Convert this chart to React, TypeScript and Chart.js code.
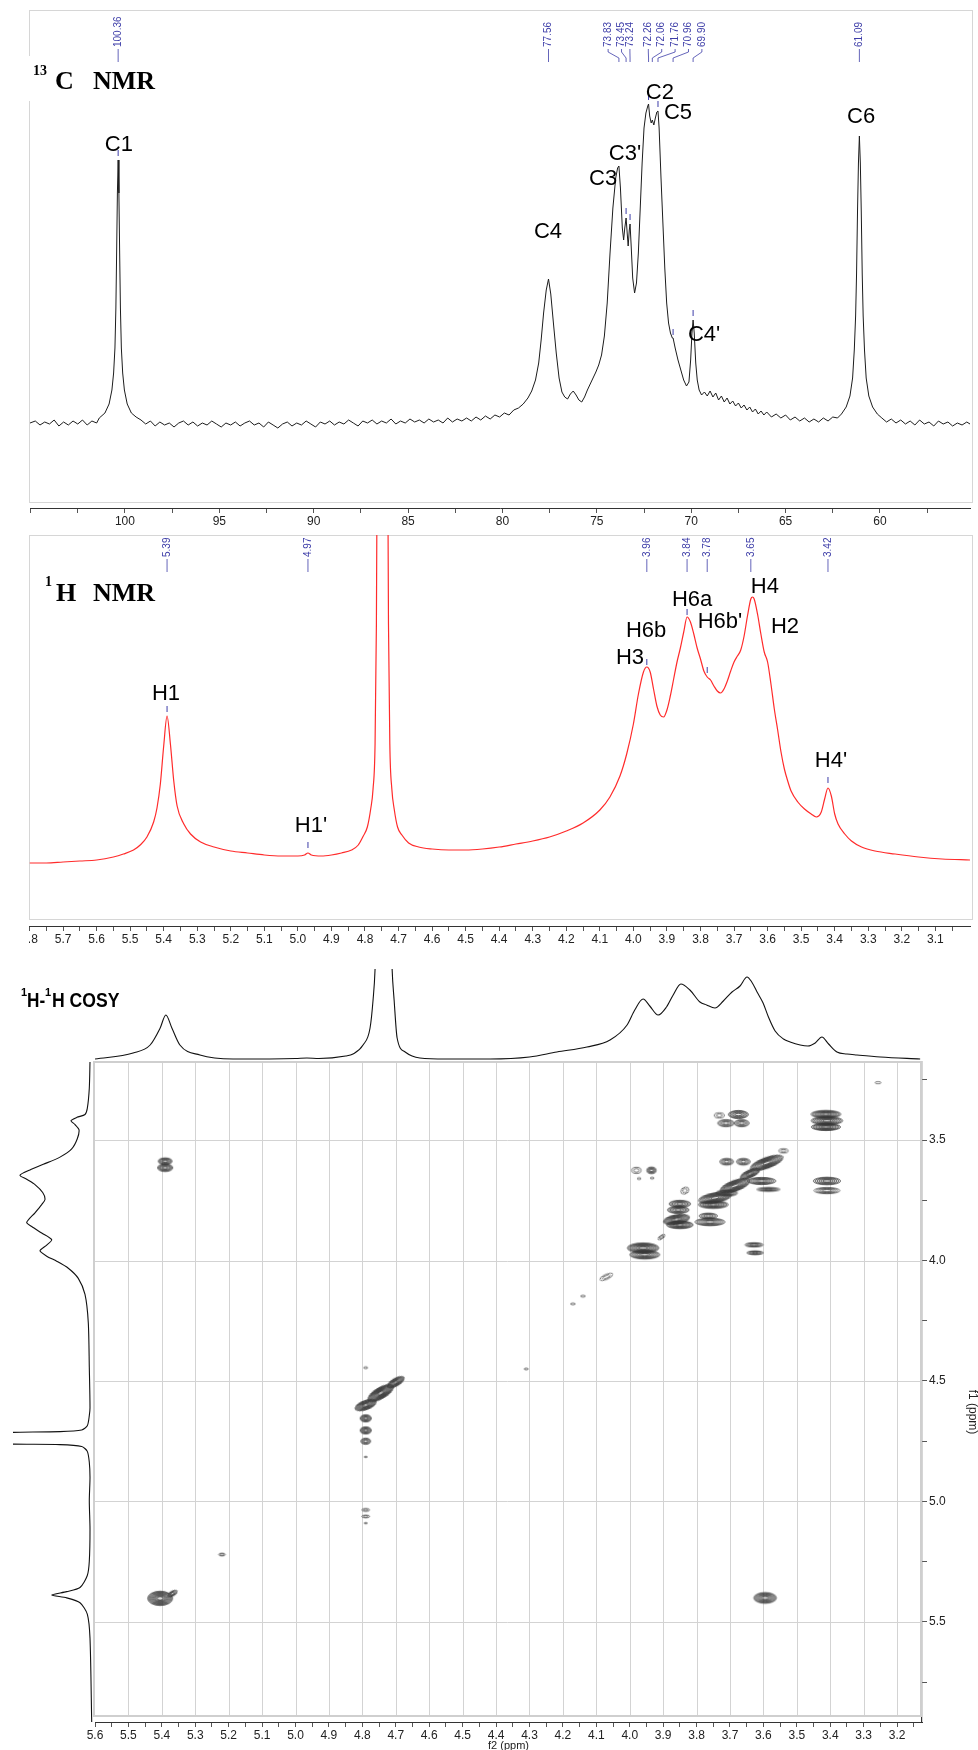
import React, { useEffect, useRef } from "react";
import { Chart, registerables } from "chart.js";
Chart.register(...registerables);

const NARROW = "'Liberation Sans Narrow', 'Arial Narrow', 'Liberation Sans', Arial, sans-serif";
const SANS = "'Liberation Sans', Arial, sans-serif";
const SERIF = "'Liberation Serif', 'Times New Roman', serif";
const BLUE = "#3d3da8";

// ---------------- 13C NMR ----------------
const c13Trace: [number, number][] = [
  [105.03, 85], [104.75, 87], [104.5, 83], [104.25, 86], [104.0, 84], [103.75, 88], [103.5, 82], [103.25, 86], [103.0, 83], [102.75, 87],
  [102.5, 84], [102.25, 88], [102.0, 83], [101.75, 87], [101.5, 85], [101.36, 90], [101.06, 95], [100.84, 104], [100.69, 118], [100.6, 135],
  [100.53, 160], [100.48, 200], [100.44, 255], [100.4, 315], [100.36, 348], [100.32, 315], [100.28, 255], [100.24, 200], [100.19, 160], [100.12, 135],
  [100.03, 118], [99.88, 104], [99.66, 95], [99.41, 91], [99.15, 88], [98.9, 84], [98.65, 87], [98.4, 82], [98.15, 86], [97.9, 83],
  [97.65, 85], [97.4, 81], [97.15, 85], [96.9, 87], [96.65, 83], [96.4, 86], [96.15, 82], [95.9, 85], [95.65, 83], [95.4, 87],
  [95.15, 84], [94.9, 81], [94.65, 85], [94.4, 83], [94.15, 86], [93.9, 82], [93.65, 85], [93.4, 87], [93.15, 83], [92.9, 85],
  [92.65, 81], [92.4, 86], [92.15, 83], [91.9, 80], [91.65, 84], [91.4, 86], [91.15, 82], [90.9, 85], [90.65, 83], [90.4, 87],
  [90.15, 84], [89.9, 81], [89.65, 86], [89.4, 84], [89.15, 87], [88.9, 83], [88.65, 86], [88.4, 84], [88.15, 88], [87.9, 85],
  [87.65, 82], [87.4, 87], [87.15, 85], [86.9, 88], [86.65, 84], [86.4, 87], [86.15, 85], [85.9, 89], [85.65, 84], [85.4, 87],
  [85.15, 85], [84.9, 89], [84.65, 86], [84.4, 88], [84.15, 85], [83.9, 89], [83.65, 86], [83.4, 88], [83.15, 85], [82.9, 90],
  [82.65, 86], [82.4, 89], [82.15, 87], [81.9, 90], [81.65, 87], [81.4, 91], [81.15, 88], [80.9, 92], [80.65, 89], [80.4, 93],
  [80.15, 91], [79.9, 95], [79.65, 93], [79.4, 98], [79.15, 100], [78.9, 104], [78.65, 110], [78.45, 117], [78.25, 128], [78.08, 145],
  [77.95, 168], [77.82, 195], [77.68, 218], [77.56, 229], [77.44, 214], [77.3, 185], [77.15, 155], [77.0, 130], [76.85, 116], [76.7, 111],
  [76.55, 109], [76.4, 114], [76.25, 117], [76.1, 113], [75.95, 108], [75.8, 106], [75.65, 111], [75.5, 118], [75.35, 124], [75.2, 130],
  [75.05, 136], [74.9, 143], [74.75, 153], [74.6, 172], [74.45, 205], [74.3, 255], [74.15, 300], [74.0, 330], [73.9, 340], [73.83, 342],
  [73.75, 320], [73.65, 280], [73.58, 268], [73.52, 280], [73.45, 290], [73.38, 272], [73.34, 262], [73.28, 278], [73.24, 284], [73.18, 262],
  [73.1, 230], [73.0, 215], [72.9, 225], [72.8, 255], [72.7, 300], [72.6, 345], [72.5, 380], [72.4, 395], [72.3, 402], [72.26, 404],
  [72.2, 392], [72.12, 385], [72.06, 388], [71.98, 383], [71.9, 390], [71.82, 396], [71.76, 397], [71.7, 380], [71.6, 330], [71.5, 285],
  [71.4, 240], [71.3, 205], [71.2, 185], [71.1, 175], [71.0, 170], [70.96, 170], [70.85, 160], [70.7, 148], [70.55, 138], [70.4, 128],
  [70.25, 122], [70.12, 126], [70.03, 148], [69.96, 175], [69.9, 188], [69.84, 175], [69.76, 145], [69.68, 128], [69.58, 118], [69.45, 113],
  [69.3, 116], [69.15, 112], [69.0, 117], [68.85, 111], [68.7, 115], [68.55, 108], [68.4, 112], [68.25, 106], [68.1, 110], [67.95, 104],
  [67.8, 107], [67.65, 102], [67.5, 105], [67.35, 100], [67.2, 103], [67.05, 98], [66.9, 101], [66.75, 96], [66.6, 99], [66.45, 94],
  [66.3, 97], [66.15, 93], [66.0, 96], [65.75, 91], [65.5, 94], [65.25, 90], [65.0, 93], [64.75, 88], [64.5, 91], [64.25, 87],
  [64.0, 90], [63.75, 86], [63.5, 89], [63.25, 86], [63.0, 90], [62.75, 87], [62.5, 91], [62.25, 90], [62.04, 94], [61.79, 101],
  [61.59, 112], [61.45, 130], [61.36, 158], [61.29, 192], [61.24, 234], [61.19, 296], [61.14, 345], [61.09, 372], [61.04, 345], [60.99, 296],
  [60.94, 234], [60.89, 192], [60.82, 158], [60.73, 130], [60.59, 112], [60.39, 101], [60.14, 94], [59.9, 90], [59.65, 86], [59.4, 89],
  [59.15, 85], [58.9, 88], [58.65, 84], [58.4, 87], [58.15, 83], [57.9, 88], [57.65, 84], [57.4, 86], [57.15, 82], [56.9, 87],
  [56.65, 84], [56.4, 86], [56.15, 82], [55.9, 85], [55.65, 83], [55.4, 86], [55.23, 84],
];
const c13PickPpm = [100.36, 77.56, 73.83, 73.45, 73.24, 72.26, 72.06, 71.76, 70.96, 69.9, 61.09];
const c13MarkPpm = [100.36, 73.45, 73.24, 72.26, 71.76, 70.96, 69.9];
const c13MarkHeight = [355, 297, 291, 411, 404, 176, 195];
const c13Names = ["C1", "C4", "C3", "C3'", "C2", "C5", "C4'", "C6"];
const c13NamePpm = [100.32, 77.59, 74.67, 73.51, 71.66, 70.7, 69.32, 61.0];
const c13NameHeight = [363, 276, 329, 354, 415, 395, 173, 391];
const C13_TICKS = [105, 102.5, 100, 97.5, 95, 92.5, 90, 87.5, 85, 82.5, 80, 77.5, 75, 72.5, 70, 67.5, 65, 62.5, 60, 57.5];
const C13_LABELS = [100, 95, 90, 85, 80, 75, 70, 65, 60];

// ---------------- 1H NMR ----------------
const h1Trace: [number, number][] = [
  [5.8, 61], [5.75, 61], [5.7, 62], [5.65, 63], [5.6, 64], [5.55, 67], [5.52, 70], [5.49, 74], [5.47, 79], [5.45, 87],
  [5.43, 102], [5.42, 116], [5.41, 140], [5.4, 178], [5.39, 208], [5.38, 180], [5.37, 143], [5.36, 118], [5.34, 100], [5.32, 90],
  [5.29, 82], [5.25, 77], [5.2, 73], [5.15, 71], [5.1, 69], [5.05, 68], [5.0, 68], [4.98, 69], [4.97, 71], [4.96, 69],
  [4.93, 68], [4.9, 69], [4.87, 71], [4.84, 74], [4.82, 79], [4.805, 88], [4.793, 97], [4.783, 115], [4.776, 135], [4.77, 180],
  [4.766, 300], [4.762, 600], [4.755, 1500], [4.748, 2000], [4.741, 1500], [4.734, 600], [4.73, 300], [4.726, 180], [4.72, 135], [4.713, 115],
  [4.703, 97], [4.69, 89], [4.67, 81], [4.64, 77], [4.6, 75], [4.55, 74], [4.5, 74], [4.45, 75], [4.4, 77], [4.35, 80],
  [4.3, 83], [4.25, 87], [4.2, 93], [4.15, 101], [4.1, 114], [4.07, 127], [4.04, 148], [4.02, 170], [4.0, 200], [3.985, 230],
  [3.97, 252], [3.96, 257], [3.95, 252], [3.94, 235], [3.93, 218], [3.92, 209], [3.91, 207], [3.9, 214], [3.89, 228], [3.88, 245],
  [3.87, 262], [3.86, 276], [3.85, 292], [3.84, 307], [3.83, 302], [3.82, 290], [3.81, 276], [3.8, 265], [3.79, 253], [3.78, 247],
  [3.77, 244], [3.76, 238], [3.75, 233], [3.74, 231], [3.73, 235], [3.72, 243], [3.71, 253], [3.7, 262], [3.69, 268], [3.68, 274],
  [3.67, 288], [3.66, 308], [3.65, 325], [3.645, 327], [3.64, 325], [3.63, 310], [3.62, 290], [3.61, 272], [3.6, 262], [3.59, 240],
  [3.58, 215], [3.57, 194], [3.56, 172], [3.55, 155], [3.54, 143], [3.53, 133], [3.51, 122], [3.49, 115], [3.47, 110], [3.455, 107],
  [3.44, 112], [3.43, 125], [3.42, 136], [3.41, 128], [3.4, 110], [3.39, 100], [3.37, 90], [3.35, 83], [3.32, 77], [3.28, 73],
  [3.22, 70], [3.15, 67], [3.08, 65], [2.9967, 64],
];
const h1PickPpm = [5.39, 4.97, 3.96, 3.84, 3.78, 3.65, 3.42];
const h1MarkPpm = [5.39, 4.97, 3.96, 3.84, 3.78, 3.42];
const h1MarkHeight = [215, 79, 262, 312, 254, 144];
const h1Names = ["H1", "H1'", "H3", "H6b", "H6a", "H6b'", "H4", "H2", "H4'"];
const h1NamePpm = [5.393, 4.961, 4.01, 3.962, 3.825, 3.742, 3.608, 3.548, 3.411];
const h1NameHeight = [230, 98, 266, 293, 324, 302, 337, 297, 163];
const H1_TICKS = [5.8, 5.75, 5.7, 5.65, 5.6, 5.55, 5.5, 5.45, 5.4, 5.35, 5.3, 5.25, 5.2, 5.15, 5.1, 5.05, 5.0, 4.95, 4.9, 4.85,
  4.8, 4.75, 4.7, 4.65, 4.6, 4.55, 4.5, 4.45, 4.4, 4.35, 4.3, 4.25, 4.2, 4.15, 4.1, 4.05, 4.0, 3.95, 3.9, 3.85, 3.8, 3.75,
  3.7, 3.65, 3.6, 3.55, 3.5, 3.45, 3.4, 3.35, 3.3, 3.25, 3.2, 3.15, 3.1, 3.05];
const H1_LABELS = [5.8, 5.7, 5.6, 5.5, 5.4, 5.3, 5.2, 5.1, 5.0, 4.9, 4.8, 4.7, 4.6, 4.5, 4.4, 4.3, 4.2, 4.1, 4.0, 3.9, 3.8,
  3.7, 3.6, 3.5, 3.4, 3.3, 3.2, 3.1];

// ---------------- COSY projections ----------------
const topProjTrace: [number, number][] = [
  [5.6, 3], [5.486, 9], [5.435, 17], [5.405, 34], [5.388, 47], [5.37, 34], [5.346, 17], [5.286, 7], [5.187, 3], [5.0, 3.5],
  [4.966, 4], [4.93, 3.5], [4.85, 6], [4.828, 8], [4.798, 17], [4.777, 34], [4.768, 62], [4.762, 93], [4.737, 400], [4.711, 93],
  [4.705, 62], [4.696, 24], [4.672, 10], [4.628, 4], [4.55, 3], [4.418, 3], [4.3, 5], [4.218, 10], [4.128, 15], [4.059, 22],
  [4.008, 37], [3.985, 52], [3.96, 63], [3.94, 56], [3.915, 47], [3.89, 55], [3.87, 67], [3.847, 78], [3.82, 72], [3.79, 60],
  [3.77, 57], [3.745, 54], [3.72, 61], [3.694, 70], [3.67, 76], [3.649, 85], [3.635, 80], [3.619, 70], [3.601, 59], [3.585, 45],
  [3.565, 31], [3.54, 23], [3.52, 20], [3.49, 17], [3.467, 16], [3.445, 19], [3.425, 25], [3.405, 18], [3.38, 10], [3.35, 8],
  [3.32, 7], [3.25, 5], [3.131, 3],
];
const leftProjTrace: [number, number][] = [
  [3.176, 5], [3.285, 5.7], [3.369, 7.7], [3.394, 10], [3.406, 18], [3.42, 24], [3.436, 20], [3.457, 16], [3.495, 17.7], [3.537, 23.3],
  [3.571, 35], [3.601, 51.7], [3.624, 65], [3.646, 75], [3.663, 68.3], [3.685, 60], [3.718, 52.3], [3.747, 50], [3.768, 53.3], [3.802, 60],
  [3.842, 68.3], [3.859, 63.3], [3.886, 53.3], [3.914, 43.3], [3.936, 48.3], [3.96, 55], [3.982, 48.3], [4.003, 38.3], [4.032, 26.7], [4.074, 16.7],
  [4.141, 10], [4.258, 6.7], [4.443, 5.7], [4.611, 5], [4.644, 5.7], [4.686, 7.7], [4.703, 13.3], [4.71, 35], [4.713, 82], [4.737, 300],
  [4.762, 82], [4.764, 35], [4.772, 13.3], [4.792, 7.7], [4.837, 5.7], [4.9, 5], [4.997, 5.7], [5.114, 5], [5.248, 5.7], [5.307, 7.7],
  [5.357, 15], [5.374, 28.3], [5.388, 43.3], [5.4, 28.3], [5.42, 15], [5.467, 7.7], [5.567, 5], [5.915, 3.3],
];

// ---------------- COSY cross peaks ----------------
const crossF2 = [3.257, 3.732, 3.675, 3.712, 3.665, 3.413, 3.41, 3.413, 3.96, 3.955, 3.905, 3.86, 3.85, 3.85, 3.855, 3.76, 3.765, 3.745, 3.75, 3.685,
  3.71, 3.605, 3.585, 3.59, 3.71, 3.66, 3.54, 3.835, 3.64, 3.98, 3.935, 3.41, 3.41, 3.628, 3.625, 4.07, 4.14, 4.17, 4.31, 5.405,
  5.368, 5.39, 5.39, 3.595, 5.22, 4.79, 4.745, 4.7, 4.79, 4.79, 4.79, 4.79, 4.79, 4.79, 4.79, 4.79, 3.972, 3.933];
const crossF1 = [3.262, 3.398, 3.394, 3.43, 3.43, 3.393, 3.42, 3.446, 3.948, 3.976, 3.903, 3.83, 3.852, 3.765, 3.79, 3.84, 3.815, 3.74, 3.768, 3.69,
  3.72, 3.67, 3.705, 3.595, 3.59, 3.59, 3.545, 3.71, 3.64, 3.626, 3.626, 3.67, 3.71, 3.935, 3.968, 4.068, 4.148, 4.18, 4.45, 5.402,
  5.382, 3.588, 3.615, 5.4, 5.22, 4.6, 4.55, 4.505, 4.655, 4.705, 4.75, 4.445, 4.815, 5.035, 5.062, 5.09, 3.66, 3.658];
const crossW = [0.018, 0.03, 0.06, 0.05, 0.045, 0.09, 0.095, 0.088, 0.095, 0.09, 0.025, 0.08, 0.08, 0.065, 0.065, 0.09, 0.055, 0.1, 0.09, 0.095,
  0.065, 0.085, 0.07, 0.105, 0.042, 0.042, 0.028, 0.025, 0.065, 0.028, 0.028, 0.082, 0.078, 0.055, 0.05, 0.042, 0.014, 0.014, 0.012, 0.075,
  0.032, 0.042, 0.046, 0.068, 0.02, 0.068, 0.088, 0.058, 0.034, 0.034, 0.03, 0.012, 0.01, 0.024, 0.024, 0.01, 0.011, 0.011];
const crossH = [0.009, 0.022, 0.034, 0.03, 0.03, 0.032, 0.034, 0.03, 0.042, 0.036, 0.014, 0.04, 0.032, 0.03, 0.03, 0.032, 0.024, 0.042, 0.032, 0.045,
  0.026, 0.03, 0.016, 0.045, 0.028, 0.028, 0.018, 0.026, 0.032, 0.026, 0.028, 0.032, 0.026, 0.018, 0.016, 0.02, 0.008, 0.008, 0.008, 0.06,
  0.02, 0.028, 0.032, 0.045, 0.012, 0.038, 0.046, 0.032, 0.03, 0.03, 0.026, 0.008, 0.006, 0.012, 0.012, 0.006, 0.008, 0.008];
const crossLevels = [1, 2, 4, 3, 3, 5, 5, 5, 6, 5, 2, 6, 5, 4, 4, 4, 3, 6, 5, 7,
  4, 4, 3, 7, 3, 3, 2, 2, 5, 2, 3, 4, 3, 3, 3, 2, 1, 1, 1, 7,
  3, 4, 4, 5, 2, 6, 8, 5, 4, 4, 3, 1, 1, 2, 2, 1, 1, 1];
const crossAngle = [0, 0, 0, 0, 0, 0, 0, 0, 0, 0, -35, -10, 0, 0, 0, 0, 0, -10, 0, -20,
  0, 0, 0, -20, 0, 0, 0, -30, -25, 0, 0, 0, 0, 0, 0, -25, 0, 0, 0, 0,
  -30, 0, 0, 0, 0, -20, -30, -30, 0, 0, 0, 0, 0, 0, 0, 0, 0, 0];
const COSY_X_TICKS = [5.6, 5.55, 5.5, 5.45, 5.4, 5.35, 5.3, 5.25, 5.2, 5.15, 5.1, 5.05, 5.0, 4.95, 4.9, 4.85, 4.8, 4.75, 4.7, 4.65,
  4.6, 4.55, 4.5, 4.45, 4.4, 4.35, 4.3, 4.25, 4.2, 4.15, 4.1, 4.05, 4.0, 3.95, 3.9, 3.85, 3.8, 3.75, 3.7, 3.65, 3.6, 3.55,
  3.5, 3.45, 3.4, 3.35, 3.3, 3.25, 3.2, 3.15];
const COSY_X_LABELS = [5.6, 5.5, 5.4, 5.3, 5.2, 5.1, 5.0, 4.9, 4.8, 4.7, 4.6, 4.5, 4.4, 4.3, 4.2, 4.1, 4.0, 3.9, 3.8, 3.7,
  3.6, 3.5, 3.4, 3.3, 3.2];
const COSY_Y_TICKS = [3.25, 3.5, 3.75, 4.0, 4.25, 4.5, 4.75, 5.0, 5.25, 5.5, 5.75];
const COSY_Y_LABELS = [3.5, 4.0, 4.5, 5.0, 5.5];
const COSY_GRID_X = [5.5, 5.4, 5.3, 5.2, 5.1, 5.0, 4.9, 4.8, 4.7, 4.6, 4.5, 4.4, 4.3, 4.2, 4.1, 4.0, 3.9, 3.8, 3.7, 3.6,
  3.5, 3.4, 3.3, 3.2];
const COSY_GRID_Y = [3.5, 4.0, 4.5, 5.0, 5.5];

// ---------------- helpers ----------------
const has = (arr: number[], v: number) => arr.some((a) => Math.abs(a - v) < 1e-6);
const pts = (arr: [number, number][]) => arr.map(([x, y]) => ({ x, y }));
const pts2 = (xs: number[], ys: number[]) => xs.map((x, i) => ({ x, y: ys[i] }));

function drawPpmLabels(chart: any, ppms: number[], yBottom: number, gap: number, crowdShift: number) {
  const ctx = chart.ctx;
  const xs = chart.scales.x;
  const px = ppms.map((p) => xs.getPixelForValue(p));
  const order = px.map((_, i) => i).sort((a, b) => px[a] - px[b]);
  const pos = order.map((i) => px[i]);
  for (let it = 0; it < 400; it++) {
    let moved = false;
    for (let k = 1; k < pos.length; k++) {
      const d = pos[k] - pos[k - 1];
      if (d < gap - 0.01) {
        const m = (gap - d) / 2;
        pos[k - 1] -= m;
        pos[k] += m;
        moved = true;
      }
    }
    if (!moved) break;
  }
  order.forEach((i, k) => {
    if (Math.abs(pos[k] - px[i]) > 0.5) pos[k] += crowdShift;
  });
  ctx.save();
  ctx.strokeStyle = BLUE;
  ctx.fillStyle = BLUE;
  ctx.lineWidth = 0.8;
  ctx.font = `10px ${SANS}`;
  order.forEach((i, k) => {
    const xl = pos[k];
    const xp = px[i];
    ctx.beginPath();
    ctx.moveTo(xl, yBottom + 1);
    ctx.lineTo(xl, yBottom + 4);
    ctx.lineTo(xp, yBottom + 10);
    ctx.lineTo(xp, yBottom + 14);
    ctx.stroke();
    ctx.save();
    ctx.translate(xl, yBottom - 1);
    ctx.rotate(-Math.PI / 2);
    ctx.textAlign = "left";
    ctx.textBaseline = "middle";
    ctx.fillText(ppms[i].toFixed(2), 0, 0);
    ctx.restore();
  });
  ctx.restore();
}

function drawNames(chart: any, names: string[], ppm: number[], h: number[]) {
  const ctx = chart.ctx;
  const xs = chart.scales.x;
  const ys = chart.scales.y;
  ctx.save();
  ctx.fillStyle = "#000";
  ctx.font = `22px ${SANS}`;
  ctx.textAlign = "center";
  ctx.textBaseline = "middle";
  names.forEach((n, i) => ctx.fillText(n, xs.getPixelForValue(ppm[i]), ys.getPixelForValue(h[i])));
  ctx.restore();
}

const stampCache = new Map<string, HTMLCanvasElement>();
function getStamp(w: number, h: number, n: number) {
  const key = `${Math.round(w * 2)}_${Math.round(h * 2)}_${n}`;
  const hit = stampCache.get(key);
  if (hit) return hit;
  const cw = Math.ceil(w) + 4;
  const ch = Math.ceil(h) + 4;
  const c = document.createElement("canvas");
  c.width = cw;
  c.height = ch;
  const g = c.getContext("2d")!;
  const rings = n <= 2 ? n : Math.round(n * 1.6);
  if (n >= 4) {
    g.fillStyle = "rgba(90,90,90,0.18)";
    g.beginPath();
    g.ellipse(cw / 2, ch / 2, w / 2, h / 2, 0, 0, Math.PI * 2);
    g.fill();
  }
  g.strokeStyle = "rgba(55,55,55,0.85)";
  g.lineWidth = 0.8;
  for (let i = 0; i < rings; i++) {
    const f = 1 - (i / rings) * 0.85;
    g.beginPath();
    g.ellipse(cw / 2, ch / 2, Math.max(0.9, (w / 2) * f), Math.max(0.7, (h / 2) * f), 0, 0, Math.PI * 2);
    g.stroke();
  }
  stampCache.set(key, c);
  return c;
}

function xAxis(ticksArr: number[], labels: number[], digits: number, height: number, extra: any = {}) {
  return {
    type: "linear",
    reverse: true,
    afterBuildTicks: (s: any) => {
      s.ticks = ticksArr.map((v) => ({ value: v }));
    },
    afterFit: (s: any) => {
      s.height = height;
      s.paddingLeft = 0;
      s.paddingRight = 0;
    },
    ticks: {
      autoSkip: false,
      maxRotation: 0,
      minRotation: 0,
      padding: 1,
      color: "#222",
      font: { family: NARROW, size: 12 },
      callback: (v: number) => (has(labels, v) ? v.toFixed(digits) : ""),
    },
    grid: { display: true, drawOnChartArea: false, drawTicks: true, tickLength: 5, color: "#555", lineWidth: 1 },
    border: { display: true, color: "#333", width: 1 },
    ...extra,
  };
}

const baseOptions = {
  responsive: false,
  animation: false,
  events: [],
  plugins: { legend: { display: false }, tooltip: { enabled: false } },
};

function c13Config(): any {
  const plugin = {
    id: "c13deco",
    beforeDraw(chart: any) {
      const ctx = chart.ctx;
      ctx.save();
      ctx.strokeStyle = "#d6d6d6";
      ctx.lineWidth = 1;
      ctx.strokeRect(29.5, 10.5, 943, 492);
      ctx.fillStyle = "#fff";
      ctx.fillRect(24, 56, 145, 45);
      ctx.restore();
    },
    afterDraw(chart: any) {
      const ctx = chart.ctx;
      drawPpmLabels(chart, c13PickPpm, 48, 13.4, 5);
      drawNames(chart, c13Names, c13NamePpm, c13NameHeight);
      ctx.save();
      ctx.fillStyle = "#000";
      ctx.textBaseline = "alphabetic";
      ctx.font = `bold 14px ${SERIF}`;
      ctx.fillText("13", 33, 75);
      ctx.font = `bold 26px ${SERIF}`;
      ctx.fillText("C", 55, 89);
      ctx.fillText("NMR", 93, 89);
      ctx.restore();
    },
  };
  return {
    type: "scatter",
    data: {
      datasets: [
        { data: pts(c13Trace), showLine: true, borderColor: "#1c1c1c", borderWidth: 1, pointRadius: 0, tension: 0 },
        { data: pts2(c13MarkPpm, c13MarkHeight), showLine: false, pointStyle: "line", pointRotation: 90, pointRadius: 3, pointBorderColor: BLUE, pointBorderWidth: 1 },
      ],
    },
    options: {
      ...baseOptions,
      layout: { autoPadding: false, padding: { left: 30, right: 8, top: 10, bottom: 0 } },
      scales: {
        x: { ...xAxis(C13_TICKS, C13_LABELS, 0, 32), min: 55.23, max: 105.03 },
        y: { display: false, min: 0, max: 498 },
      },
    },
    plugins: [plugin],
  };
}

function h1Config(): any {
  const plugin = {
    id: "h1deco",
    beforeDraw(chart: any) {
      const ctx = chart.ctx;
      ctx.save();
      ctx.strokeStyle = "#d6d6d6";
      ctx.lineWidth = 1;
      ctx.strokeRect(0.5, 5.5, 943, 384);
      ctx.restore();
    },
    afterDraw(chart: any) {
      const ctx = chart.ctx;
      drawPpmLabels(chart, h1PickPpm, 28, 13.4, 0);
      drawNames(chart, h1Names, h1NamePpm, h1NameHeight);
      ctx.save();
      ctx.fillStyle = "#000";
      ctx.font = `bold 14px ${SERIF}`;
      ctx.fillText("1", 16, 56);
      ctx.font = `bold 26px ${SERIF}`;
      ctx.fillText("H", 27, 71);
      ctx.fillText("NMR", 64, 71);
      ctx.restore();
    },
  };
  return {
    type: "scatter",
    data: {
      datasets: [
        { data: pts(h1Trace), showLine: true, borderColor: "#ff2b2b", borderWidth: 1.2, pointRadius: 0, cubicInterpolationMode: "monotone" },
        { data: pts2(h1MarkPpm, h1MarkHeight), showLine: false, pointStyle: "line", pointRotation: 90, pointRadius: 3, pointBorderColor: BLUE, pointBorderWidth: 1 },
      ],
    },
    options: {
      ...baseOptions,
      layout: { autoPadding: false, padding: { left: 0.5, right: 8, top: 5, bottom: 0 } },
      scales: {
        x: { ...xAxis(H1_TICKS, H1_LABELS, 1, 34), min: 2.9967, max: 5.8 },
        y: { display: false, min: -2, max: 389 },
      },
    },
    plugins: [plugin],
  };
}

function topProjConfig(): any {
  const plugin = {
    id: "topdeco",
    afterDraw(chart: any) {
      const ctx = chart.ctx;
      ctx.save();
      ctx.fillStyle = "#000";
      ctx.font = `bold 11px ${SANS}`;
      ctx.fillText("1", 21, 36);
      ctx.fillText("1", 45, 36);
      ctx.font = `bold 20px ${SANS}`;
      ctx.save();
      ctx.translate(27, 47);
      ctx.scale(0.86, 1);
      ctx.fillText("H-", 0, 0);
      ctx.restore();
      ctx.save();
      ctx.translate(52, 47);
      ctx.scale(0.88, 1);
      ctx.fillText("H COSY", 0, 0);
      ctx.restore();
      ctx.restore();
    },
  };
  return {
    type: "scatter",
    data: {
      datasets: [
        { data: pts(topProjTrace), showLine: true, borderColor: "#111", borderWidth: 1.1, pointRadius: 0, cubicInterpolationMode: "monotone" },
      ],
    },
    options: {
      ...baseOptions,
      layout: { autoPadding: false, padding: { left: 95, right: 56, top: 9, bottom: 0 } },
      scales: {
        x: { display: false, type: "linear", reverse: true, min: 3.1255, max: 5.6 },
        y: { display: false, min: 0, max: 93 },
      },
    },
    plugins: [plugin],
  };
}

function leftProjConfig(): any {
  return {
    type: "scatter",
    data: {
      datasets: [
        { data: leftProjTrace.map(([p, v]) => ({ x: v, y: p })), showLine: true, borderColor: "#111", borderWidth: 1.1, pointRadius: 0, tension: 0.25 },
      ],
    },
    options: {
      ...baseOptions,
      layout: { autoPadding: false, padding: { left: 13, right: 0, top: 0, bottom: 0 } },
      scales: {
        x: { display: false, type: "linear", reverse: true, min: 0, max: 82 },
        y: { display: false, type: "linear", reverse: true, min: 3.1763, max: 5.915 },
      },
    },
  };
}

function cosyConfig(): any {
  const plugin = {
    id: "cosydeco",
    beforeDatasetsDraw(chart: any) {
      const ctx = chart.ctx;
      const xs = chart.scales.x;
      const ys = chart.scales.y;
      const L = 94, T = 7, R = 921, B = 661;
      ctx.save();
      ctx.strokeStyle = "#d3d3d3";
      ctx.lineWidth = 1;
      COSY_GRID_X.forEach((v) => {
        const x = Math.round(xs.getPixelForValue(v)) + 0.5;
        ctx.beginPath();
        ctx.moveTo(x, T);
        ctx.lineTo(x, B);
        ctx.stroke();
      });
      COSY_GRID_Y.forEach((v) => {
        const y = Math.round(ys.getPixelForValue(v)) + 0.5;
        ctx.beginPath();
        ctx.moveTo(L, y);
        ctx.lineTo(R, y);
        ctx.stroke();
      });
      ctx.strokeStyle = "#cfcfcf";
      ctx.lineWidth = 2;
      ctx.strokeRect(L, T, R - L, B - T);
      ctx.restore();
    },
    afterDraw(chart: any) {
      const ctx = chart.ctx;
      ctx.save();
      ctx.fillStyle = "#222";
      ctx.font = `12px ${NARROW}`;
      ctx.translate(972, 357);
      ctx.rotate(Math.PI / 2);
      ctx.textAlign = "center";
      ctx.textBaseline = "middle";
      ctx.fillText("f1 (ppm)", 0, 0);
      ctx.restore();
    },
  };
  const data = crossF2.map((x, i) => ({ x, y: crossF1[i], w: crossW[i], h: crossH[i], n: crossLevels[i], a: crossAngle[i] }));
  return {
    type: "scatter",
    data: {
      datasets: [
        {
          data,
          showLine: false,
          pointRadius: 5,
          pointBorderWidth: 0,
          pointRotation: (c: any) => (c.raw ? c.raw.a : 0),
          pointStyle: (c: any) => {
            const r = c.raw;
            if (!r) return "circle";
            const xs = c.chart.scales.x;
            const ys = c.chart.scales.y;
            const wpx = Math.abs(xs.getPixelForValue(r.x - r.w / 2) - xs.getPixelForValue(r.x + r.w / 2));
            const hpx = Math.abs(ys.getPixelForValue(r.y + r.h / 2) - ys.getPixelForValue(r.y - r.h / 2));
            return getStamp(wpx, hpx, r.n);
          },
        },
      ],
    },
    options: {
      ...baseOptions,
      layout: { autoPadding: false, padding: { left: 95, right: 0, top: 7, bottom: 0 } },
      scales: {
        x: {
          ...xAxis(COSY_X_TICKS, COSY_X_LABELS, 1, 28),
          min: 3.1255,
          max: 5.6,
          title: { display: true, text: "f2 (ppm)", color: "#222", font: { family: NARROW, size: 11 }, padding: { top: 0, bottom: -3 } },
        },
        y: {
          type: "linear",
          position: "right",
          reverse: true,
          min: 3.1763,
          max: 5.915,
          afterBuildTicks: (s: any) => {
            s.ticks = COSY_Y_TICKS.map((v) => ({ value: v }));
          },
          afterFit: (s: any) => {
            s.width = 56;
            s.paddingTop = 0;
            s.paddingBottom = 0;
          },
          ticks: {
            autoSkip: false,
            padding: 2,
            color: "#222",
            font: { family: NARROW, size: 12 },
            callback: (v: number) => (has(COSY_Y_LABELS, v) ? v.toFixed(1) : ""),
          },
          grid: { display: true, drawOnChartArea: false, drawTicks: true, tickLength: 5, color: "#555" },
          border: { display: true, color: "#333", width: 1.2 },
        },
      },
    },
    plugins: [plugin],
  };
}

export default function App() {
  const r13 = useRef<HTMLCanvasElement>(null);
  const r1h = useRef<HTMLCanvasElement>(null);
  const rTop = useRef<HTMLCanvasElement>(null);
  const rLeft = useRef<HTMLCanvasElement>(null);
  const rCosy = useRef<HTMLCanvasElement>(null);

  useEffect(() => {
    const charts = [
      new Chart(r13.current!, c13Config()),
      new Chart(r1h.current!, h1Config()),
      new Chart(rTop.current!, topProjConfig()),
      new Chart(rLeft.current!, leftProjConfig()),
      new Chart(rCosy.current!, cosyConfig()),
    ];
    return () => charts.forEach((c) => c.destroy());
  }, []);

  const abs = (left: number, top: number, width: number, height: number): React.CSSProperties => ({
    position: "absolute",
    left,
    top,
    width,
    height,
  });

  return (
    <div style={{ position: "absolute", left: 0, top: 0, width: 978, height: 1750, background: "#fff", overflow: "hidden" }}>
      <canvas ref={r13} width={978} height={540} style={abs(0, 0, 978, 540)} />
      <canvas ref={r1h} width={949} height={430} style={abs(29, 530, 949, 430)} />
      <canvas ref={rTop} width={978} height={102} style={abs(0, 960, 978, 102)} />
      <canvas ref={rLeft} width={95} height={660} style={abs(0, 1062, 95, 660)} />
      <canvas ref={rCosy} width={978} height={695} style={abs(0, 1055, 978, 695)} />
    </div>
  );
}
